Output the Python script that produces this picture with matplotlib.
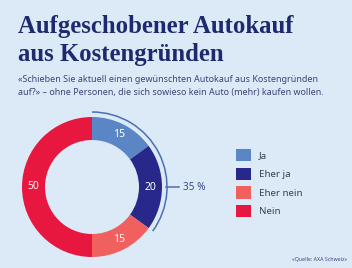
import matplotlib
matplotlib.use("Agg")
import matplotlib.pyplot as plt
from matplotlib.patches import Arc, Patch

# data
categories = ["Ja", "Eher ja", "Eher nein", "Nein"]
values = [15, 20, 15, 50]
colors = ["#5b86c6", "#28288a", "#f0605e", "#e8173f"]
bracket_total = values[0] + values[1]   # Ja + Eher ja

title_lines = ["Aufgeschobener Autokauf", "aus Kostengründen"]
subtitle_lines = ["«Schieben Sie aktuell einen gewünschten Autokauf aus Kostengründen",
                  "auf?» – ohne Personen, die sich sowieso kein Auto (mehr) kaufen wollen."]

bg = "#dce9f6"
navy = "#1f2a6e"

fig = plt.figure(figsize=(3.52, 2.68), dpi=100, facecolor=bg)

# title and subtitle, one text per line
for i, line in enumerate(title_lines):
    fig.text(18/352, 1 - (33 + 28*i)/268, line, fontsize=17.8, fontweight="bold",
             family="Liberation Serif", color=navy, va="baseline", ha="left")
for i, line in enumerate(subtitle_lines):
    fig.text(18/352, 1 - (82 + 12.5*i)/268, line, fontsize=6.45, family="Noto Sans",
             color="#3b4577", va="baseline", ha="left")

# donut (axes is 150x150 px, data units = px)
ax = fig.add_axes([(92 - 75)/352, (268 - 187 - 75)/268, 150/352, 150/268])
ax.set_facecolor(bg)
wedges, texts = ax.pie(values, colors=colors, startangle=90, counterclock=False,
                       radius=70, wedgeprops=dict(width=23, linewidth=0),
                       labels=[str(v) for v in values], labeldistance=(70 - 11.5)/70,
                       textprops=dict(color="white", fontsize=7.5, family="Noto Sans",
                                      ha="center", va="center"))
ax.set_xlim(-75, 75)
ax.set_ylim(-75, 75)
ax.set_aspect("equal")
ax.axis("off")

# bracket arc over Ja + Eher ja
theta_end = 90 - 360 * bracket_total / sum(values)
ax.add_patch(Arc((0, 0), 150, 150, theta1=theta_end, theta2=90,
                 color="#4a6fb3", lw=1.1, clip_on=False))
ax.plot([74, 87], [0, 0], color="#4a6fb3", lw=1.1, clip_on=False)
ax.text(91, 0, f"{bracket_total} %", color="#3b4a8c", fontsize=7.2, family="Noto Sans",
        va="center", ha="left", clip_on=False)

# legend
handles = [Patch(facecolor=c, edgecolor="none", label=l) for c, l in zip(colors, categories)]
fig.legend(handles=handles, loc="upper left", bbox_to_anchor=(232/352, 1 - 145/268),
           frameon=False, prop={"family": "Noto Sans", "size": 7},
           handlelength=1.6, handleheight=1.6, labelspacing=0.63, handletextpad=0.75,
           labelcolor="#3a3f55", borderaxespad=0)

fig.text(347/352, 1 - 259/268, "«Quelle: AXA Schweiz»", fontsize=3.8,
         family="Noto Sans", color="#3b4a8c", ha="right", va="center")

fig.savefig("out.png", dpi=100, facecolor=bg)
